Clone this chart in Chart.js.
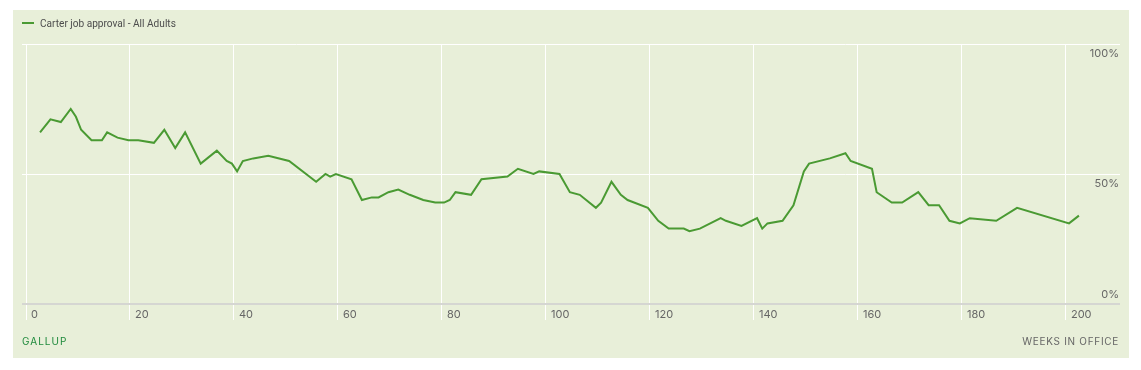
<!DOCTYPE html>
<html>
<head>
<meta charset="utf-8">
<script src="https://cdn.jsdelivr.net/npm/chart.js@4/dist/chart.umd.min.js"></script>
<style>
  html, body { margin: 0; padding: 0; background: #ffffff; }
  #panel { position: absolute; left: 13px; top: 10px; width: 1116px; height: 348px; background: #e8efd9; font-family: Inter, "Noto Sans", sans-serif; }
  #chart { position: absolute; left: 0; top: 0; }
  #legend { position: absolute; left: 9px; top: 6px; height: 14px; display: flex; align-items: center; font-family: Roboto, Inter, sans-serif; font-size: 10.1px; color: #4d4d4d; }
  #legend .sw { width: 12px; height: 2px; margin-right: 6px; }
  #src { position: absolute; left: 9px; top: 325px; font-size: 10px; letter-spacing: 1px; color: #1f8a3c; line-height: 12px; }
  #xtitle { position: absolute; right: 10px; top: 325px; font-size: 10px; letter-spacing: 0.7px; color: #666; line-height: 12px; }
</style>
</head>
<body>
<div id="panel">
  <canvas id="chart" width="1116" height="348"></canvas>
  <div id="legend"></div>
  <div id="src">GALLUP</div>
  <div id="xtitle">WEEKS IN OFFICE</div>
</div>
<script>
const seriesLabel = "Carter job approval - All Adults";
const weeks = [2.7, 4.7, 6.7, 8.6, 9.6, 10.6, 12.6, 14.6, 15.6, 17.6, 19.7, 21.6, 24.6, 26.6, 28.7, 30.6, 33.6, 36.7, 38.6, 39.6, 40.6, 41.7, 43.7, 46.6, 50.6,
  55.8, 57.6, 58.5, 59.6, 62.6, 64.6, 66.5, 67.8, 69.7, 71.6, 73.8, 76.4, 78.7, 80.4, 81.5, 82.6, 85.6, 87.6, 92.6, 94.6, 97.6, 98.7, 102.6,
  104.6, 106.5, 109.6, 110.6, 112.6, 114.4, 115.7, 119.6, 121.6, 123.6, 126.5, 127.6, 129.6, 133.6, 134.6, 137.6,
  140.6, 141.6, 142.6, 145.5, 147.6, 149.6, 150.6, 154.6, 157.6, 158.6, 162.7, 163.6, 166.5, 168.5, 171.6, 173.6, 175.6, 177.6, 179.6, 181.5, 186.6, 190.6, 200.6, 202.5];
const approval = [66, 71, 70, 75, 72, 67, 63, 63, 66, 64, 63, 63, 62, 67, 60, 66, 54, 59, 55, 54, 51, 55, 56, 57, 55,
  47, 50, 49, 50, 48, 40, 41, 41, 43, 44, 42, 40, 39, 39, 40, 43, 42, 48, 49, 52, 50, 51, 50,
  43, 42, 37, 39, 47, 42, 40, 37, 32, 29, 29, 28, 29, 33, 32, 30,
  33, 29, 31, 32, 38, 51, 54, 56, 58, 55, 52, 43, 39, 39, 43, 38, 38, 32, 31, 33, 32, 37, 31, 34];
const xTicks = [0, 20, 40, 60, 80, 100, 120, 140, 160, 180, 200];
const yTicks = [0, 50, 100];
const yTickLabels = ["0%", "50%", "100%"];

const lineColor = '#4a9a33';
document.getElementById('legend').innerHTML =
  '<span class="sw" style="background:' + lineColor + '"></span><span>' + seriesLabel + '</span>';

const labelPlugin = {
  id: 'axisLabels',
  afterDraw(chart) {
    const ctx = chart.ctx;
    const xs = chart.scales.x, ys = chart.scales.y;
    ctx.save();
    ctx.font = '11px Inter, "Noto Sans", sans-serif';
    ctx.fillStyle = '#666';
    ctx.textAlign = 'left';
    ctx.textBaseline = 'middle';
    xTicks.forEach(v => {
      ctx.fillText(String(v), xs.getPixelForValue(v) + 5, ys.getPixelForValue(0) + 11);
    });
    ctx.textAlign = 'right';
    yTicks.forEach((v, i) => {
      const py = ys.getPixelForValue(v);
      const dy = v === 0 ? -9 : 10;
      ctx.fillText(yTickLabels[i], chart.chartArea.right - 1, py + dy);
    });
    ctx.restore();
  }
};

new Chart(document.getElementById('chart'), {
  type: 'line',
  data: {
    datasets: [{
      label: seriesLabel,
      data: weeks.map((w, i) => ({ x: w, y: approval[i] })),
      borderColor: lineColor,
      backgroundColor: lineColor,
      borderWidth: 2,
      pointRadius: 0,
      tension: 0,
      fill: false
    }]
  },
  options: {
    responsive: false,
    animation: false,
    layout: { padding: { left: 9, right: 9, top: 34, bottom: 38 } },
    plugins: { legend: { display: false }, tooltip: { enabled: false } },
    scales: {
      x: {
        type: 'linear',
        min: -0.77,
        max: 210.4,
        afterBuildTicks: (s) => { s.ticks = xTicks.map(v => ({ value: v })); },
        ticks: { display: false },
        border: { display: false },
        grid: { color: '#ffffff', lineWidth: 1, drawTicks: true, tickLength: 16, tickColor: '#ffffff' }
      },
      y: {
        min: 0,
        max: 100,
        afterBuildTicks: (s) => { s.ticks = yTicks.map(v => ({ value: v })); },
        ticks: { display: false },
        border: { display: false },
        grid: {
          drawTicks: false,
          color: (c) => (c.tick && c.tick.value === 0 ? '#d5d6d2' : '#ffffff'),
          lineWidth: (c) => (c.tick && c.tick.value === 0 ? 2 : 1)
        }
      }
    }
  },
  plugins: [labelPlugin]
});
</script>
</body>
</html>
